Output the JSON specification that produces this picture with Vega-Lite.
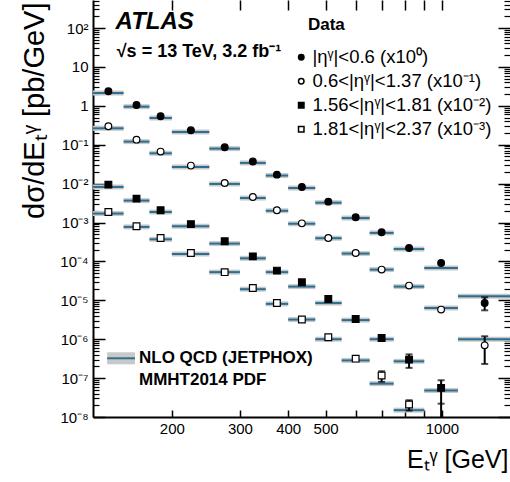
{
  "$schema": "https://vega.github.io/schema/vega-lite/v6.json",
  "width": 417,
  "height": 417,
  "autosize": {"type": "none"},
  "padding": {"left": 93, "top": 0, "right": 0, "bottom": 65},
  "config": {
    "font": "Liberation Sans",
    "view": {"stroke": null},
    "axis": {"grid": false, "labelColor": "black", "titleColor": "black", "tickColor": "black", "domainColor": "black", "labelFont": "Liberation Sans", "titleFont": "Liberation Sans", "labelOverlap": false, "labelFlush": false, "titleFontWeight": "normal"}
  },
  "datasets": {
    "bins": [
      {"eta": "|ηᵞ|<0.6 (x10⁰)", "lo": 125, "hi": 150, "E": 137, "v": 2.36, "t": 2.13},
      {"eta": "|ηᵞ|<0.6 (x10⁰)", "lo": 150, "hi": 175, "E": 162, "v": 1.05, "t": 0.95},
      {"eta": "|ηᵞ|<0.6 (x10⁰)", "lo": 175, "hi": 200, "E": 187, "v": 0.54, "t": 0.486},
      {"eta": "|ηᵞ|<0.6 (x10⁰)", "lo": 200, "hi": 250, "E": 224, "v": 0.235, "t": 0.212},
      {"eta": "|ηᵞ|<0.6 (x10⁰)", "lo": 250, "hi": 300, "E": 274, "v": 0.086, "t": 0.0794},
      {"eta": "|ηᵞ|<0.6 (x10⁰)", "lo": 300, "hi": 350, "E": 324, "v": 0.037, "t": 0.034},
      {"eta": "|ηᵞ|<0.6 (x10⁰)", "lo": 350, "hi": 400, "E": 374, "v": 0.017, "t": 0.0161},
      {"eta": "|ηᵞ|<0.6 (x10⁰)", "lo": 400, "hi": 470, "E": 434, "v": 0.0082, "t": 0.0077},
      {"eta": "|ηᵞ|<0.6 (x10⁰)", "lo": 470, "hi": 550, "E": 508, "v": 0.00344, "t": 0.00323},
      {"eta": "|ηᵞ|<0.6 (x10⁰)", "lo": 550, "hi": 650, "E": 598, "v": 0.00136, "t": 0.0013},
      {"eta": "|ηᵞ|<0.6 (x10⁰)", "lo": 650, "hi": 750, "E": 698, "v": 0.00056, "t": 0.00054},
      {"eta": "|ηᵞ|<0.6 (x10⁰)", "lo": 750, "hi": 900, "E": 822, "v": 0.000221, "t": 0.000208},
      {"eta": "|ηᵞ|<0.6 (x10⁰)", "lo": 900, "hi": 1100, "E": 995, "v": 0.000091, "t": 0.000068},
      {"eta": "|ηᵞ|<0.6 (x10⁰)", "lo": 1100, "hi": 1500, "E": 1290, "v": 0.0000085, "t": 0.0000127},
      {"eta": "0.6<|ηᵞ|<1.37 (x10⁻¹)", "lo": 125, "hi": 150, "E": 137, "v": 0.297, "t": 0.264},
      {"eta": "0.6<|ηᵞ|<1.37 (x10⁻¹)", "lo": 150, "hi": 175, "E": 162, "v": 0.135, "t": 0.12},
      {"eta": "0.6<|ηᵞ|<1.37 (x10⁻¹)", "lo": 175, "hi": 200, "E": 187, "v": 0.0665, "t": 0.0601},
      {"eta": "0.6<|ηᵞ|<1.37 (x10⁻¹)", "lo": 200, "hi": 250, "E": 224, "v": 0.029, "t": 0.0268},
      {"eta": "0.6<|ηᵞ|<1.37 (x10⁻¹)", "lo": 250, "hi": 300, "E": 274, "v": 0.01035, "t": 0.0098},
      {"eta": "0.6<|ηᵞ|<1.37 (x10⁻¹)", "lo": 300, "hi": 350, "E": 324, "v": 0.00453, "t": 0.00426},
      {"eta": "0.6<|ηᵞ|<1.37 (x10⁻¹)", "lo": 350, "hi": 400, "E": 374, "v": 0.00206, "t": 0.002},
      {"eta": "0.6<|ηᵞ|<1.37 (x10⁻¹)", "lo": 400, "hi": 470, "E": 434, "v": 0.00095, "t": 0.00093},
      {"eta": "0.6<|ηᵞ|<1.37 (x10⁻¹)", "lo": 470, "hi": 550, "E": 508, "v": 0.0004, "t": 0.000395},
      {"eta": "0.6<|ηᵞ|<1.37 (x10⁻¹)", "lo": 550, "hi": 650, "E": 598, "v": 0.000164, "t": 0.000159},
      {"eta": "0.6<|ηᵞ|<1.37 (x10⁻¹)", "lo": 650, "hi": 750, "E": 698, "v": 0.0000615, "t": 0.0000615},
      {"eta": "0.6<|ηᵞ|<1.37 (x10⁻¹)", "lo": 750, "hi": 900, "E": 822, "v": 0.0000239, "t": 0.0000225},
      {"eta": "0.6<|ηᵞ|<1.37 (x10⁻¹)", "lo": 900, "hi": 1100, "E": 995, "v": 0.00000577, "t": 0.0000063},
      {"eta": "0.6<|ηᵞ|<1.37 (x10⁻¹)", "lo": 1100, "hi": 1500, "E": 1290, "v": 0.000000695, "t": 0.000001},
      {"eta": "1.56<|ηᵞ|<1.81 (x10⁻²)", "lo": 125, "hi": 150, "E": 137, "v": 0.0094, "t": 0.0082},
      {"eta": "1.56<|ηᵞ|<1.81 (x10⁻²)", "lo": 150, "hi": 175, "E": 162, "v": 0.0041, "t": 0.00366},
      {"eta": "1.56<|ηᵞ|<1.81 (x10⁻²)", "lo": 175, "hi": 200, "E": 187, "v": 0.00206, "t": 0.00186},
      {"eta": "1.56<|ηᵞ|<1.81 (x10⁻²)", "lo": 200, "hi": 250, "E": 224, "v": 0.00091, "t": 0.0008},
      {"eta": "1.56<|ηᵞ|<1.81 (x10⁻²)", "lo": 250, "hi": 300, "E": 274, "v": 0.00033, "t": 0.000287},
      {"eta": "1.56<|ηᵞ|<1.81 (x10⁻²)", "lo": 300, "hi": 350, "E": 324, "v": 0.000135, "t": 0.00012},
      {"eta": "1.56<|ηᵞ|<1.81 (x10⁻²)", "lo": 350, "hi": 400, "E": 374, "v": 0.000058, "t": 0.000053},
      {"eta": "1.56<|ηᵞ|<1.81 (x10⁻²)", "lo": 400, "hi": 470, "E": 434, "v": 0.000029, "t": 0.0000225},
      {"eta": "1.56<|ηᵞ|<1.81 (x10⁻²)", "lo": 470, "hi": 550, "E": 508, "v": 0.0000108, "t": 0.0000085},
      {"eta": "1.56<|ηᵞ|<1.81 (x10⁻²)", "lo": 550, "hi": 650, "E": 598, "v": 0.0000033, "t": 0.0000031},
      {"eta": "1.56<|ηᵞ|<1.81 (x10⁻²)", "lo": 650, "hi": 750, "E": 698, "v": 0.00000107, "t": 0.000001},
      {"eta": "1.56<|ηᵞ|<1.81 (x10⁻²)", "lo": 750, "hi": 900, "E": 822, "v": 0.000000298, "t": 0.00000027},
      {"eta": "1.56<|ηᵞ|<1.81 (x10⁻²)", "lo": 900, "hi": 1100, "E": 995, "v": 0.000000056, "t": 0.000000048},
      {"eta": "1.81<|ηᵞ|<2.37 (x10⁻³)", "lo": 125, "hi": 150, "E": 137, "v": 0.00186, "t": 0.0017},
      {"eta": "1.81<|ηᵞ|<2.37 (x10⁻³)", "lo": 150, "hi": 175, "E": 162, "v": 0.0008, "t": 0.00077},
      {"eta": "1.81<|ηᵞ|<2.37 (x10⁻³)", "lo": 175, "hi": 200, "E": 187, "v": 0.0004, "t": 0.00037},
      {"eta": "1.81<|ηᵞ|<2.37 (x10⁻³)", "lo": 200, "hi": 250, "E": 224, "v": 0.000164, "t": 0.000155},
      {"eta": "1.81<|ηᵞ|<2.37 (x10⁻³)", "lo": 250, "hi": 300, "E": 274, "v": 0.000053, "t": 0.000053},
      {"eta": "1.81<|ηᵞ|<2.37 (x10⁻³)", "lo": 300, "hi": 350, "E": 324, "v": 0.0000207, "t": 0.0000193},
      {"eta": "1.81<|ηᵞ|<2.37 (x10⁻³)", "lo": 350, "hi": 400, "E": 374, "v": 0.0000085, "t": 0.0000081},
      {"eta": "1.81<|ηᵞ|<2.37 (x10⁻³)", "lo": 400, "hi": 470, "E": 434, "v": 0.0000032, "t": 0.0000032},
      {"eta": "1.81<|ηᵞ|<2.37 (x10⁻³)", "lo": 470, "hi": 550, "E": 508, "v": 0.00000112, "t": 0.000001},
      {"eta": "1.81<|ηᵞ|<2.37 (x10⁻³)", "lo": 550, "hi": 650, "E": 598, "v": 0.000000316, "t": 0.000000285},
      {"eta": "1.81<|ηᵞ|<2.37 (x10⁻³)", "lo": 650, "hi": 750, "E": 698, "v": 0.000000116, "t": 0.000000072},
      {"eta": "1.81<|ηᵞ|<2.37 (x10⁻³)", "lo": 750, "hi": 900, "E": 822, "v": 0.000000021, "t": 0.000000015}
    ],
    "errs": [
      {"E": 1290, "lo": 0.00000553, "hi": 0.0000119},
      {"E": 1290, "lo": 0.000000231, "hi": 0.00000119},
      {"E": 822, "lo": 0.000000183, "hi": 0.000000407},
      {"E": 995, "lo": 0.00000001, "hi": 0.000000088},
      {"E": 698, "lo": 0.00000008, "hi": 0.00000015},
      {"E": 822, "lo": 0.0000000146, "hi": 0.000000027}
    ],
    "caps": [
      {"E": 1290, "v": 0.00000553}, {"E": 1290, "v": 0.0000119},
      {"E": 1290, "v": 0.000000231}, {"E": 1290, "v": 0.00000119},
      {"E": 822, "v": 0.000000183}, {"E": 822, "v": 0.000000407},
      {"E": 995, "v": 0.000000022}, {"E": 995, "v": 0.000000088},
      {"E": 698, "v": 0.00000008}, {"E": 698, "v": 0.00000015},
      {"E": 822, "v": 0.0000000146}, {"E": 822, "v": 0.000000027}
    ],
    "labels": [
      {"key": "atlas", "E": 143, "v": 96, "text": "ATLAS"},
      {"key": "info", "E": 144, "v": 18, "text": "√s = 13 TeV, 3.2 fb⁻¹"},
      {"key": "data", "E": 450, "v": 91, "text": "Data"},
      {"key": "nlo", "E": 164.4, "v": 0.00000024, "text": "NLO QCD (JETPHOX)"},
      {"key": "nlo", "E": 164.4, "v": 0.0000000653, "text": "MMHT2014 PDF"}
    ],
    "thlegend": [
      {"E": 136, "E2": 160.5, "v": 0.000000323}
    ]
  },
  "layer": [
    {
      "data": {"name": "bins"},
      "mark": {"type": "rule", "color": "#c8c8c8", "strokeWidth": 5},
      "encoding": {
        "x": {"field": "lo", "type": "quantitative", "scale": {"type": "log", "domain": [125, 1500]},
          "axis": {"orient": "bottom", "values": [200, 300, 400, 500, 600, 700, 800, 900, 1000], "tickSize": -7, "tickWidth": 1.5, "domainWidth": 2, "labelPadding": 11, "labelFontSize": 15,
            "labelExpr": "(datum.value == 200 || datum.value == 300 || datum.value == 400 || datum.value == 500 || datum.value == 1000) ? toString(datum.value) : ''",
            "title": "Eₜᵞ [GeV]", "titleFontSize": 25, "titleX": 415, "titleY": 50, "titleAlign": "right", "titleBaseline": "alphabetic", "titleAnchor": null}},
        "x2": {"field": "hi"},
        "y": {"field": "t", "type": "quantitative", "scale": {"type": "log", "domain": [1e-8, 525]},
          "axis": {"orient": "left", "values": [1e-8, 1e-7, 1e-6, 1e-5, 1e-4, 1e-3, 1e-2, 0.1, 1, 10, 100], "tickSize": -12, "tickWidth": 1.5, "domainWidth": 2, "labelPadding": 17, "labelFontSize": 15,
            "labelExpr": "datum.value > 5 && datum.value < 50 ? '10' : (datum.value > 0.5 && datum.value < 5 ? '1' : '10' + ['⁻⁸','⁻⁷','⁻⁶','⁻⁵','⁻⁴','⁻³','⁻²','⁻¹','⁰','¹','²'][round(log(datum.value) / LN10) + 8])",
            "title": "dσ/dEₜᵞ [pb/GeV]", "titleFontSize": 29, "titleX": -50, "titleY": 2, "titleAlign": "right", "titleBaseline": "alphabetic", "titleAngle": -90, "titleAnchor": null}}
      }
    },
    {
      "data": {"name": "bins"},
      "mark": {"type": "rule", "color": "#2c6e91", "strokeWidth": 2},
      "encoding": {
        "x": {"field": "lo", "type": "quantitative", "scale": {"type": "log", "domain": [125, 1500]},
          "axis": {"orient": "top", "values": [200, 300, 400, 500, 600, 700, 800, 900, 1000], "tickSize": -10, "tickWidth": 1.5, "domain": false, "labels": false, "title": null}},
        "x2": {"field": "hi"},
        "y": {"field": "t", "type": "quantitative", "scale": {"type": "log", "domain": [1e-8, 525]},
          "axis": {"orient": "left", "values": [2e-8, 3e-8, 4e-8, 5e-8, 6e-8, 7e-8, 8e-8, 9e-8, 2e-7, 3e-7, 4e-7, 5e-7, 6e-7, 7e-7, 8e-7, 9e-7, 2e-6, 3e-6, 4e-6, 5e-6, 6e-6, 7e-6, 8e-6, 9e-6, 2e-5, 3e-5, 4e-5, 5e-5, 6e-5, 7e-5, 8e-5, 9e-5, 2e-4, 3e-4, 4e-4, 5e-4, 6e-4, 7e-4, 8e-4, 9e-4, 0.002, 0.003, 0.004, 0.005, 0.006, 0.007, 0.008, 0.009, 0.02, 0.03, 0.04, 0.05, 0.06, 0.07, 0.08, 0.09, 0.2, 0.3, 0.4, 0.5, 0.6, 0.7, 0.8, 0.9, 2, 3, 4, 5, 6, 7, 8, 9, 20, 30, 40, 50, 60, 70, 80, 90, 200, 300, 400, 500], "tickSize": -6, "tickWidth": 1.2, "domain": false, "labels": false, "title": null}}
      }
    },
    {
      "data": {"name": "errs"},
      "mark": {"type": "rule", "color": "black", "strokeWidth": 2},
      "encoding": {
        "x": {"field": "E", "type": "quantitative", "scale": {"type": "log", "domain": [125, 1500]}, "axis": null},
        "y": {"field": "lo", "type": "quantitative", "scale": {"type": "log", "domain": [1e-8, 525]},
          "axis": {"orient": "right", "values": [1e-8, 1e-7, 1e-6, 1e-5, 1e-4, 1e-3, 1e-2, 0.1, 1, 10, 100], "tickSize": -12, "tickWidth": 1.5, "domain": false, "labels": false, "title": null}},
        "y2": {"field": "hi"}
      }
    },
    {
      "data": {"name": "caps"},
      "mark": {"type": "tick", "orient": "horizontal", "color": "black", "size": 7, "thickness": 2},
      "encoding": {
        "x": {"field": "E", "type": "quantitative", "scale": {"type": "log", "domain": [125, 1500]}, "axis": null},
        "y": {"field": "v", "type": "quantitative", "scale": {"type": "log", "domain": [1e-8, 525]},
          "axis": {"orient": "right", "values": [2e-8, 3e-8, 4e-8, 5e-8, 6e-8, 7e-8, 8e-8, 9e-8, 2e-7, 3e-7, 4e-7, 5e-7, 6e-7, 7e-7, 8e-7, 9e-7, 2e-6, 3e-6, 4e-6, 5e-6, 6e-6, 7e-6, 8e-6, 9e-6, 2e-5, 3e-5, 4e-5, 5e-5, 6e-5, 7e-5, 8e-5, 9e-5, 2e-4, 3e-4, 4e-4, 5e-4, 6e-4, 7e-4, 8e-4, 9e-4, 0.002, 0.003, 0.004, 0.005, 0.006, 0.007, 0.008, 0.009, 0.02, 0.03, 0.04, 0.05, 0.06, 0.07, 0.08, 0.09, 0.2, 0.3, 0.4, 0.5, 0.6, 0.7, 0.8, 0.9, 2, 3, 4, 5, 6, 7, 8, 9, 20, 30, 40, 50, 60, 70, 80, 90, 200, 300, 400, 500], "tickSize": -6, "tickWidth": 1.2, "domain": false, "labels": false, "title": null}}
      }
    },
    {
      "data": {"name": "bins"},
      "mark": {"type": "point", "stroke": "black", "strokeWidth": 1.2, "size": 45, "opacity": 1, "fillOpacity": 1},
      "encoding": {
        "x": {"field": "E", "type": "quantitative", "scale": {"type": "log", "domain": [125, 1500]}, "axis": null},
        "y": {"field": "v", "type": "quantitative", "scale": {"type": "log", "domain": [1e-8, 525]}, "axis": null},
        "shape": {"field": "eta", "type": "nominal",
          "scale": {"domain": ["|ηᵞ|<0.6 (x10⁰)", "0.6<|ηᵞ|<1.37 (x10⁻¹)", "1.56<|ηᵞ|<1.81 (x10⁻²)", "1.81<|ηᵞ|<2.37 (x10⁻³)"], "range": ["circle", "circle", "square", "square"]},
          "legend": {"orient": "none", "legendX": 199, "legendY": 48, "title": null, "labelFontSize": 18.5, "labelFont": "Liberation Sans", "labelColor": "black", "labelLimit": 0, "symbolSize": 30, "rowPadding": 5, "labelOffset": 2, "padding": 0,
            "encode": {"symbols": {"update": {"stroke": {"value": "black"}, "strokeWidth": {"value": 1}}}}}},
        "fill": {"field": "eta", "type": "nominal",
          "scale": {"domain": ["|ηᵞ|<0.6 (x10⁰)", "0.6<|ηᵞ|<1.37 (x10⁻¹)", "1.56<|ηᵞ|<1.81 (x10⁻²)", "1.81<|ηᵞ|<2.37 (x10⁻³)"], "range": ["black", "white", "black", "white"]},
          "legend": {"orient": "none", "legendX": 199, "legendY": 48, "title": null, "labelFontSize": 18.5, "labelFont": "Liberation Sans", "labelColor": "black", "labelLimit": 0, "symbolSize": 30, "rowPadding": 5, "labelOffset": 2, "padding": 0,
            "encode": {"symbols": {"update": {"stroke": {"value": "black"}, "strokeWidth": {"value": 1}}}}}}
      }
    },
    {
      "data": {"name": "labels"},
      "transform": [{"filter": "datum.key == 'atlas'"}],
      "mark": {"type": "text", "align": "left", "baseline": "alphabetic", "fontSize": 24, "fontWeight": "bold", "fontStyle": "italic", "color": "black"},
      "encoding": {
        "x": {"field": "E", "type": "quantitative", "scale": {"type": "log", "domain": [125, 1500]}, "axis": null},
        "y": {"field": "v", "type": "quantitative", "scale": {"type": "log", "domain": [1e-8, 525]}, "axis": null},
        "text": {"field": "text"}
      }
    },
    {
      "data": {"name": "labels"},
      "transform": [{"filter": "datum.key == 'info'"}],
      "mark": {"type": "text", "align": "left", "baseline": "alphabetic", "fontSize": 18, "fontWeight": "bold", "color": "black"},
      "encoding": {
        "x": {"field": "E", "type": "quantitative", "scale": {"type": "log", "domain": [125, 1500]}, "axis": null},
        "y": {"field": "v", "type": "quantitative", "scale": {"type": "log", "domain": [1e-8, 525]}, "axis": null},
        "text": {"field": "text"}
      }
    },
    {
      "data": {"name": "labels"},
      "transform": [{"filter": "datum.key == 'data'"}],
      "mark": {"type": "text", "align": "left", "baseline": "alphabetic", "fontSize": 17, "fontWeight": "bold", "color": "black"},
      "encoding": {
        "x": {"field": "E", "type": "quantitative", "scale": {"type": "log", "domain": [125, 1500]}, "axis": null},
        "y": {"field": "v", "type": "quantitative", "scale": {"type": "log", "domain": [1e-8, 525]}, "axis": null},
        "text": {"field": "text"}
      }
    },
    {
      "data": {"name": "labels"},
      "transform": [{"filter": "datum.key == 'nlo'"}],
      "mark": {"type": "text", "align": "left", "baseline": "alphabetic", "fontSize": 17, "fontWeight": "bold", "color": "black"},
      "encoding": {
        "x": {"field": "E", "type": "quantitative", "scale": {"type": "log", "domain": [125, 1500]}, "axis": null},
        "y": {"field": "v", "type": "quantitative", "scale": {"type": "log", "domain": [1e-8, 525]}, "axis": null},
        "text": {"field": "text"}
      }
    },
    {
      "data": {"name": "thlegend"},
      "mark": {"type": "rule", "color": "#c8c8c8", "strokeWidth": 12},
      "encoding": {
        "x": {"field": "E", "type": "quantitative", "scale": {"type": "log", "domain": [125, 1500]}, "axis": null},
        "x2": {"field": "E2"},
        "y": {"field": "v", "type": "quantitative", "scale": {"type": "log", "domain": [1e-8, 525]}, "axis": null}
      }
    },
    {
      "data": {"name": "thlegend"},
      "mark": {"type": "rule", "color": "#2c6e91", "strokeWidth": 2},
      "encoding": {
        "x": {"field": "E", "type": "quantitative", "scale": {"type": "log", "domain": [125, 1500]}, "axis": null},
        "x2": {"field": "E2"},
        "y": {"field": "v", "type": "quantitative", "scale": {"type": "log", "domain": [1e-8, 525]}, "axis": null}
      }
    }
  ],
  "resolve": {"scale": {"x": "shared", "y": "shared"}, "axis": {"x": "independent", "y": "independent"}}
}
